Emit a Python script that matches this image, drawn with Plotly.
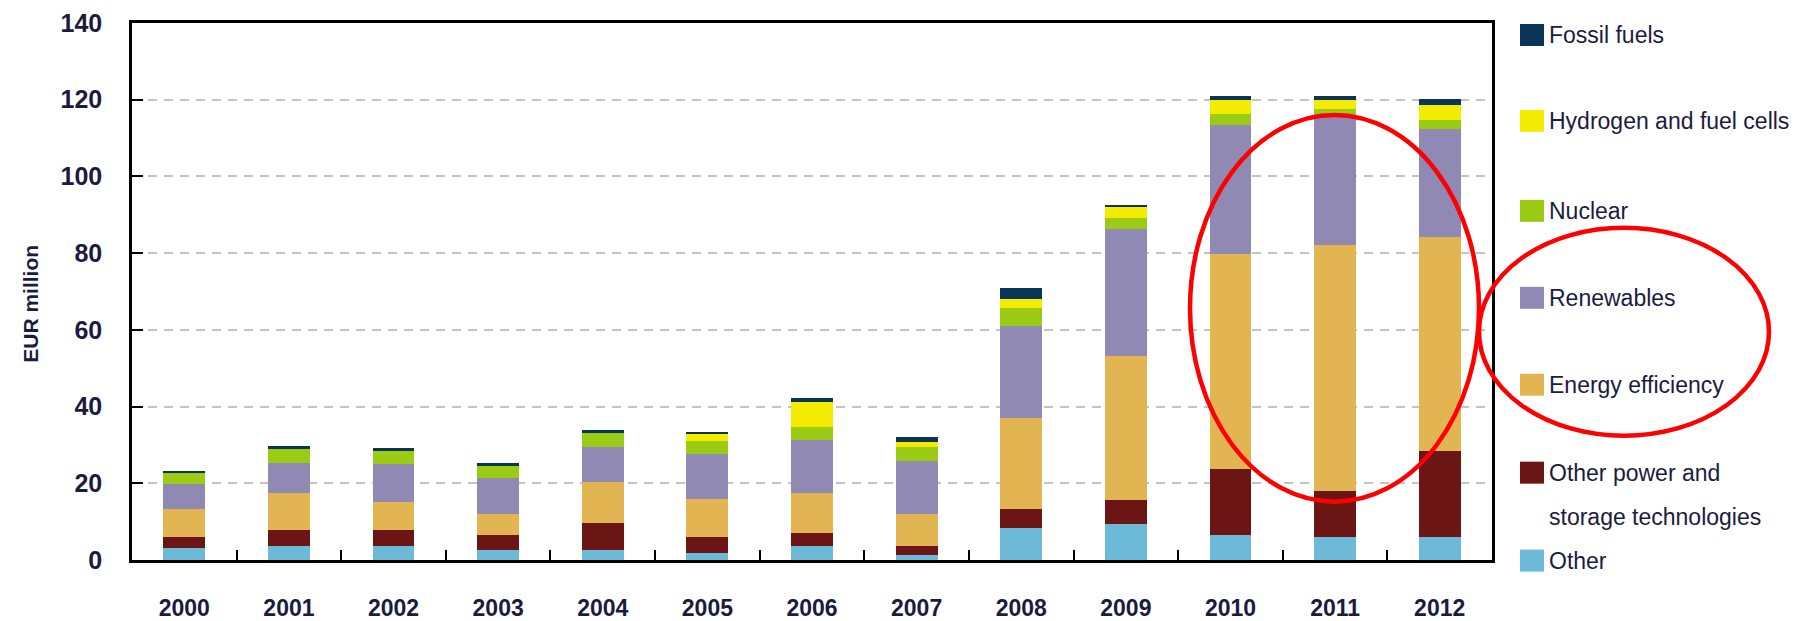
import plotly.graph_objects as go

years = ["2000", "2001", "2002", "2003", "2004", "2005", "2006",
         "2007", "2008", "2009", "2010", "2011", "2012"]

other = [3.1, 3.6, 3.6, 2.6, 2.6, 1.9, 3.6, 1.3, 8.3, 9.3, 6.5, 6.0, 6.0]
other_power = [2.8, 4.3, 4.1, 3.8, 7.0, 4.0, 3.4, 2.3, 4.9, 6.4, 17.2, 12.1, 22.4]
energy_eff = [7.5, 9.5, 7.5, 5.5, 10.7, 9.9, 10.4, 8.3, 23.7, 37.4, 56.0, 63.9, 55.9]
renewables = [6.4, 8.0, 9.7, 9.5, 9.2, 11.8, 13.8, 13.9, 24.2, 33.1, 33.8, 33.8, 28.1]
nuclear = [2.9, 3.6, 3.5, 3.1, 3.7, 3.4, 3.4, 3.6, 4.5, 3.0, 2.8, 1.9, 2.4]
hydrogen = [0.0, 0.0, 0.0, 0.0, 0.0, 1.8, 6.5, 1.3, 2.5, 2.8, 3.7, 2.3, 3.9]
fossil = [0.6, 0.7, 0.9, 0.7, 0.7, 0.7, 1.2, 1.3, 2.9, 0.6, 1.1, 1.1, 1.5]

y_ticks = [0, 20, 40, 60, 80, 100, 120, 140]

series = [
    ("Other", other, "#6cb9d8"),
    ("Other power and storage technologies", other_power, "#6b1515"),
    ("Energy efficiency", energy_eff, "#e2b552"),
    ("Renewables", renewables, "#8f89b3"),
    ("Nuclear", nuclear, "#9bcb14"),
    ("Hydrogen and fuel cells", hydrogen, "#f4ec00"),
    ("Fossil fuels", fossil, "#0b3558"),
]

FONT = "Liberation Sans, Arial, sans-serif"
TXT = "#1b1b3f"

fig = go.Figure()
for name, vals, col in series:
    fig.add_trace(go.Bar(x=years, y=vals, name=name,
                         marker=dict(color=col, line=dict(width=0)),
                         showlegend=False))

W, H = 1809, 621
OFF = 8  # page body offset
L, T = 124, 15
PW, PH = 1360, 537.4
R = W - L - PW
B = H - T - PH

def px(x):
    return (x - OFF - L) / PW

def py(y):
    return (T + PH - (y - OFF)) / PH

fig.update_layout(
    width=W, height=H,
    margin=dict(l=L, r=R, t=T, b=B, pad=0),
    barmode="stack", bargap=0.6,
    plot_bgcolor="white", paper_bgcolor="white",
    font=dict(family=FONT, color=TXT),
    xaxis=dict(type="category", range=[-0.5, 12.5], automargin=False,
               showline=True, linecolor="black", linewidth=2.5, mirror=True,
               ticks="inside", ticklen=10, tickwidth=2, tickcolor="black",
               tickson="boundaries", showgrid=False,
               tickfont=dict(family=FONT, size=23, color=TXT, weight="bold"),
               ticklabelstandoff=26),
    yaxis=dict(range=[0, 140], tickvals=y_ticks, automargin=False,
               showline=True, linecolor="black", linewidth=2.5, mirror=True,
               ticks="inside", ticklen=11, tickwidth=2, tickcolor="black",
               showgrid=True, gridcolor="#c4c4c4", gridwidth=2,
               griddash="9px,7px", zeroline=False,
               tickfont=dict(family=FONT, size=25, color=TXT, weight="bold"),
               ticklabelstandoff=22),
)

# Y-axis title
fig.add_annotation(text="<b>EUR million</b>", textangle=-90,
                   x=px(31), y=py(304), xref="paper", yref="paper",
                   xanchor="center", yanchor="middle",
                   showarrow=False, font=dict(family=FONT, size=21, color=TXT))

# Custom legend (top to bottom)
legend_items = [
    ("Fossil fuels", "#0b3558", 35),
    ("Hydrogen and fuel cells", "#f4ec00", 121),
    ("Nuclear", "#9bcb14", 211),
    ("Renewables", "#8f89b3", 298),
    ("Energy efficiency", "#e2b552", 385),
    ("Other power and", "#6b1515", 473),
    ("Other", "#6cb9d8", 561),
]
for label, col, yc in legend_items:
    fig.add_shape(type="rect", xref="paper", yref="paper",
                  x0=px(1520), x1=px(1544), y0=py(yc + 11), y1=py(yc - 11),
                  fillcolor=col, line=dict(width=0))
    fig.add_annotation(text=label, xref="paper", yref="paper",
                       x=px(1547), y=py(yc), xanchor="left", yanchor="middle",
                       align="left", showarrow=False,
                       font=dict(family=FONT, size=23, color=TXT))
fig.add_annotation(text="storage technologies", xref="paper", yref="paper",
                   x=px(1547), y=py(517), xanchor="left", yanchor="middle",
                   align="left", showarrow=False,
                   font=dict(family=FONT, size=23, color=TXT))

# Red highlight ellipses
fig.add_shape(type="circle", xref="paper", yref="paper",
              x0=px(1190), x1=px(1479), y0=py(502), y1=py(115),
              line=dict(color="#ff0000", width=4.5))
fig.add_shape(type="circle", xref="paper", yref="paper",
              x0=px(1479), x1=px(1769), y0=py(436), y1=py(228),
              line=dict(color="#ff0000", width=4.5))

fig.write_html("out.html")
